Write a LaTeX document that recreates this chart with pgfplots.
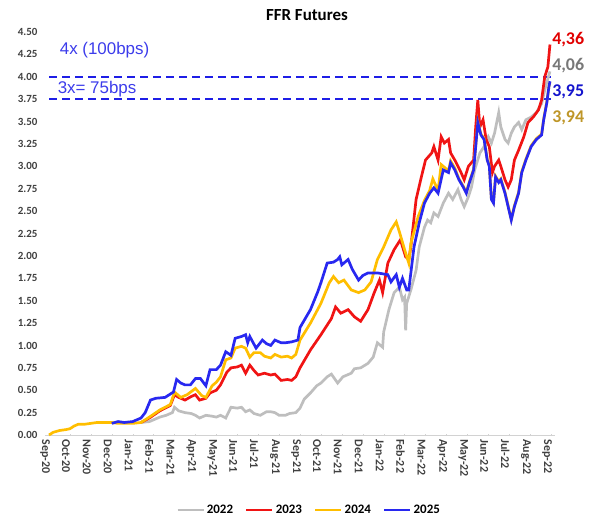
\documentclass[border=0pt]{standalone}
\usepackage{pgfplots}
\pgfplotsset{compat=1.18}
\usepackage{fontspec}
\setmainfont{Carlito}
\newfontfamily\arialf{Liberation Sans}
\definecolor{c22}{RGB}{190,190,190}
\definecolor{c23}{RGB}{240,20,20}
\definecolor{c24}{RGB}{255,190,0}
\definecolor{c25}{RGB}{40,40,240}
\definecolor{dashblue}{RGB}{30,30,230}
\definecolor{lab22}{RGB}{120,120,120}
\definecolor{lab23}{RGB}{225,0,0}
\definecolor{lab24}{RGB}{190,150,40}
\definecolor{lab25}{RGB}{20,20,205}
\definecolor{txtb}{RGB}{60,60,235}
\begin{document}
\begin{tikzpicture}[x=1bp,y=1bp]
\useasboundingbox (0,0) rectangle (595,-519);
\node[font=\bfseries\fontsize{17}{17}\selectfont] at (307,-15) {FFR Futures};
\begin{axis}[
  at={(49bp,-435bp)}, anchor=origin,
  scale only axis, width=502bp, height=403bp,
  xmin=0, xmax=24, ymin=0, ymax=4.5,
  clip=false,
  axis lines=left,
  x axis line style={-, draw=gray!35, line width=0.8pt, shorten <=-4bp, shorten >=-4bp},
  y axis line style={draw=none},
  ytick={0,0.25,...,4.5},
  xtick={0,1,...,24},
  xticklabels={Sep-20,Oct-20,Nov-20,Dec-20,Jan-21,Feb-21,Mar-21,Apr-21,May-21,Jun-21,Jul-21,Aug-21,Sep-21,Oct-21,Nov-21,Dec-21,Jan-22,Feb-22,Mar-22,Apr-22,May-22,Jun-22,Jul-22,Aug-22,Sep-22},
  ytick style={draw=none},
  xtick style={draw=gray!35},
  major tick length=2bp,
  /pgf/number format/assume math mode=true,
  yticklabel={\pgfmathprintnumber[fixed,fixed zerofill,precision=2]{\tick}},
  yticklabel style={font=\bfseries\fontsize{11}{11}\selectfont, text=black!75, anchor=east, xshift=-7bp},
  xticklabel style={font=\bfseries\fontsize{12}{12}\selectfont, text=black!75, rotate=-90, anchor=west, yshift=-4bp},
  legend style={at={(0.518,-0.186)}, anchor=center, draw=none, fill=none,
    legend columns=4, font=\bfseries\fontsize{13}{13}\selectfont,
    /tikz/every even column/.append style={column sep=10bp}},
  legend cell align=left,
  legend image code/.code={\draw[#1] (0bp,0bp) -- (26bp,0bp);},
]
% dashed reference lines
\addplot[dashblue, line width=2.4bp, dash pattern=on 8bp off 5bp, forget plot] coordinates {(0,4.00) (24,4.00)};
\addplot[dashblue, line width=2.4bp, dash pattern=on 8bp off 5bp, forget plot] coordinates {(0,3.75) (24,3.75)};
% 2022
\addplot[c22, line width=2.7bp] coordinates {
(4.4,0.14) (4.8,0.15) (5.3,0.20) (5.6,0.22) (5.9,0.25) (6.0,0.31) (6.2,0.27) (6.5,0.25) (6.8,0.24) (7.0,0.22)
(7.2,0.19) (7.5,0.22) (7.8,0.21) (8.0,0.20) (8.2,0.22) (8.45,0.19) (8.7,0.31) (9.0,0.30) (9.2,0.31) (9.4,0.26)
(9.6,0.28) (9.8,0.24) (10.1,0.22) (10.4,0.26) (10.6,0.26) (10.8,0.25) (11.0,0.22) (11.3,0.22) (11.5,0.24) (11.8,0.25)
(12.0,0.30) (12.2,0.40) (12.5,0.47) (12.8,0.55) (13.0,0.58) (13.3,0.65) (13.5,0.68) (13.8,0.58) (14.05,0.65) (14.45,0.69)
(14.6,0.74) (14.9,0.75) (15.25,0.80) (15.5,0.87) (15.7,1.03) (15.95,0.98) (16.0,1.15) (16.25,1.40) (16.5,1.59) (16.75,1.65)
(16.9,1.51) (17.0,1.54) (17.05,1.17) (17.1,1.47) (17.3,1.62) (17.55,1.84) (17.7,2.10) (17.95,2.32) (18.1,2.40) (18.25,2.37)
(18.4,2.48) (18.6,2.44) (18.85,2.59) (19.1,2.70) (19.3,2.63) (19.55,2.74) (19.7,2.63) (19.85,2.55) (20.05,2.66) (20.2,2.77)
(20.35,2.96) (20.6,3.15) (20.8,3.22) (21.0,3.33) (21.15,3.26) (21.3,3.37) (21.5,3.60) (21.6,3.44) (21.8,3.30) (21.95,3.26)
(22.1,3.37) (22.25,3.44) (22.45,3.49) (22.6,3.41) (22.8,3.52) (23.05,3.55) (23.3,3.60) (23.55,3.70) (23.75,3.90) (23.95,4.06)
};
\addlegendentry{2022}
% 2023
\addplot[c23, line width=2.7bp] coordinates {
(4.4,0.14) (4.8,0.19) (5.3,0.27) (5.8,0.33) (6.0,0.45) (6.2,0.42) (6.5,0.39) (6.8,0.43) (7.0,0.45) (7.2,0.39)
(7.5,0.41) (7.7,0.47) (8.0,0.50) (8.2,0.56) (8.5,0.70) (8.7,0.75) (9.0,0.76) (9.2,0.78) (9.4,0.69) (9.6,0.78)
(9.8,0.72) (10.0,0.67) (10.3,0.69) (10.6,0.67) (10.8,0.68) (11.1,0.61) (11.4,0.62) (11.6,0.61) (11.8,0.65) (12.0,0.75)
(12.5,0.95) (13.0,1.12) (13.5,1.30) (13.7,1.43) (13.95,1.36) (14.3,1.40) (14.6,1.32) (14.9,1.27) (15.25,1.40) (15.55,1.59)
(15.8,1.73) (15.95,1.59) (16.2,1.92) (16.5,2.07) (16.8,2.18) (17.05,1.99) (17.2,1.96) (17.3,2.10) (17.55,2.63) (17.8,2.88)
(18.0,3.07) (18.3,3.15) (18.4,3.22) (18.6,3.07) (18.75,3.33) (18.9,3.26) (19.1,3.30) (19.2,3.15) (19.4,3.07) (19.55,3.00)
(19.7,2.93) (19.85,2.85) (20.05,3.00) (20.3,3.07) (20.4,3.44) (20.5,3.74) (20.6,3.44) (20.75,3.52) (20.9,3.30) (21.05,3.22)
(21.2,2.93) (21.3,3.00) (21.5,3.07) (21.6,3.00) (21.8,2.85) (21.95,2.77) (22.1,2.85) (22.25,3.07) (22.45,3.18) (22.7,3.33)
(22.9,3.49) (23.15,3.55) (23.4,3.63) (23.55,3.74) (23.7,4.00) (23.85,4.11) (23.95,4.36)
};
\addlegendentry{2023}
% 2024
\addplot[c24, line width=2.7bp] coordinates {
(0,0.00) (0.2,0.03) (0.5,0.05) (0.8,0.06) (1.0,0.07) (1.2,0.10) (1.4,0.12) (1.7,0.12) (2.0,0.13) (2.3,0.14)
(2.6,0.14) (3.0,0.14) (3.3,0.13) (3.6,0.13) (4.0,0.13) (4.4,0.14) (4.8,0.20) (5.3,0.28) (5.8,0.34) (6.0,0.48)
(6.3,0.42) (6.6,0.45) (7.0,0.52) (7.3,0.44) (7.5,0.42) (7.8,0.55) (8.0,0.59) (8.2,0.65) (8.45,0.84) (8.7,0.86)
(8.9,0.97) (9.2,0.99) (9.4,0.97) (9.6,0.87) (9.8,0.92) (10.1,0.92) (10.3,0.88) (10.6,0.86) (10.8,0.90) (11.1,0.87)
(11.4,0.88) (11.6,0.86) (11.8,0.90) (12.0,1.06) (12.5,1.25) (13.0,1.47) (13.4,1.70) (13.6,1.77) (13.85,1.70) (14.1,1.73)
(14.45,1.62) (14.8,1.59) (15.1,1.62) (15.4,1.71) (15.7,1.96) (16.0,2.10) (16.35,2.29) (16.6,2.38) (16.75,2.27) (17.0,2.07)
(17.2,1.92) (17.3,2.14) (17.65,2.44) (17.95,2.62) (18.2,2.73) (18.35,2.86) (18.6,2.73) (18.75,3.02) (19.1,2.95) (19.2,3.06)
(19.4,2.98) (19.6,2.86) (19.8,2.78) (19.95,2.71) (20.1,2.83) (20.3,2.97) (20.4,3.23) (20.5,3.50) (20.65,3.36) (20.8,3.31)
(20.95,3.08) (21.05,3.01) (21.15,2.64) (21.25,2.60) (21.35,2.89) (21.5,2.83) (21.6,2.86) (21.8,2.71) (21.95,2.56) (22.1,2.41)
(22.25,2.56) (22.45,2.71) (22.6,2.94) (22.8,3.08) (23.05,3.23) (23.3,3.31) (23.55,3.36) (23.65,3.53) (23.8,3.72) (23.9,3.89) (23.95,3.94)
};
\addlegendentry{2024}
% 2025
\addplot[c25, line width=2.7bp] coordinates {
(3.0,0.13) (3.3,0.15) (3.6,0.14) (4.0,0.15) (4.4,0.19) (4.6,0.25) (4.85,0.39) (5.1,0.41) (5.55,0.42) (5.95,0.48)
(6.1,0.62) (6.3,0.58) (6.5,0.56) (6.76,0.56) (7.0,0.63) (7.24,0.63) (7.5,0.55) (7.7,0.73) (8.0,0.73) (8.2,0.78)
(8.45,0.93) (8.7,0.89) (8.9,1.08) (9.2,1.10) (9.4,1.12) (9.5,1.03) (9.6,1.10) (9.9,0.97) (10.2,1.06) (10.4,1.02)
(10.6,1.00) (10.8,1.06) (11.1,1.03) (11.3,1.03) (11.6,1.04) (11.9,1.06) (12.0,1.20) (12.5,1.40) (12.85,1.60) (13.0,1.70)
(13.3,1.92) (13.6,1.93) (13.8,1.96) (13.9,1.99) (14.0,1.90) (14.3,1.96) (14.5,1.85) (14.8,1.73) (15.0,1.78) (15.25,1.81)
(15.7,1.81) (16.2,1.79) (16.35,1.71) (16.6,1.79) (16.75,1.65) (16.9,1.75) (17.1,1.62) (17.2,1.62) (17.45,2.10) (17.7,2.37)
(17.95,2.59) (18.2,2.70) (18.4,2.76) (18.6,2.70) (18.85,2.96) (19.1,2.93) (19.2,3.04) (19.4,2.96) (19.6,2.85) (19.8,2.77)
(19.95,2.70) (20.1,2.82) (20.3,2.96) (20.4,3.22) (20.5,3.49) (20.65,3.35) (20.8,3.30) (20.95,3.07) (21.05,3.00) (21.15,2.63)
(21.25,2.59) (21.35,2.88) (21.5,2.82) (21.6,2.85) (21.8,2.70) (21.95,2.55) (22.1,2.40) (22.25,2.55) (22.45,2.70) (22.6,2.93)
(22.8,3.07) (23.05,3.22) (23.3,3.30) (23.55,3.35) (23.65,3.52) (23.8,3.71) (23.9,3.89) (23.95,3.95)
};
\addlegendentry{2025}
% annotations
\node[anchor=west, text=txtb, font=\arialf\fontsize{17}{17}\selectfont] at (axis cs:0.35,4.30) {4x (100bps)};
\node[anchor=west, text=txtb, font=\arialf\fontsize{17}{17}\selectfont] at (axis cs:0.25,3.86) {3x= 75bps};
\node[anchor=west, text=lab23, font=\bfseries\fontsize{18}{18}\selectfont, inner sep=0pt] at (axis cs:24.05,4.41) {4,36};
\node[anchor=west, text=lab22, font=\bfseries\fontsize{18}{18}\selectfont, inner sep=0pt] at (axis cs:24.05,4.13) {4,06};
\node[anchor=west, text=lab25, font=\bfseries\fontsize{18}{18}\selectfont, inner sep=0pt] at (axis cs:24.05,3.83) {3,95};
\node[anchor=west, text=lab24, font=\bfseries\fontsize{18}{18}\selectfont, inner sep=0pt] at (axis cs:24.05,3.54) {3,94};
\end{axis}
\end{tikzpicture}
\end{document}
